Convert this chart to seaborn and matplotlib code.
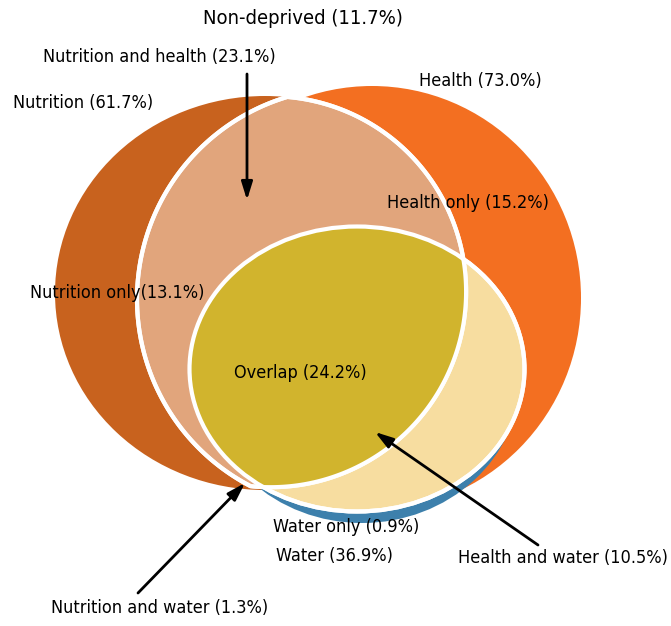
import matplotlib
matplotlib.use("Agg")
import matplotlib.pyplot as plt
from matplotlib.patches import Ellipse, PathPatch
from matplotlib.path import Path
import numpy as np
import seaborn as sns

sns.set_theme(style="white")
plt.rcParams['font.family'] = ['DejaVu Sans']
plt.rcParams['font.stretch'] = 'condensed'

# ---- data ----
set_names = ["Nutrition", "Health", "Water"]
set_pcts = [61.7, 73.0, 36.9]
region_names = ["Non-deprived", "Nutrition and health", "Health only", "Nutrition only",
                "Overlap", "Water only", "Health and water", "Nutrition and water"]
region_pcts = [11.7, 23.1, 15.2, 13.1, 24.2, 0.9, 10.5, 1.3]

W, H = 671, 626
fig = plt.figure(figsize=(W / 100, H / 100), dpi=100)
ax = fig.add_axes([0, 0, 1, 1])
ax.set_xlim(0, W)
ax.set_ylim(H, 0)
ax.set_aspect("equal")
ax.axis("off")

C_NUT = "#C8621E"
C_HEA = "#F36F21"
C_WAT = "#3D80AC"
C_NH = "#E1A57C"
C_HW = "#F7DDA0"
C_ALL = "#D1B42D"


def arc_inside(c, r, c_other, r_other, n=1440):
    t = np.linspace(0, 2 * np.pi, n, endpoint=False)
    pts = np.column_stack([c[0] + r * np.cos(t), c[1] + r * np.sin(t)])
    inside = np.hypot(pts[:, 0] - c_other[0], pts[:, 1] - c_other[1]) < r_other
    k = int(np.argmin(inside))
    return np.roll(pts, -k, axis=0)[np.roll(inside, -k)]


# lens of nutrition and health (layout circles)
CA, RA = (270.6, 291.7), 195.5
CB, RB = (348.0, 299.0), 211.0
lens = np.vstack([arc_inside(CA, RA, CB, RB), arc_inside(CB, RB, CA, RA)])
lens_path = Path(np.vstack([lens, lens[:1]]), closed=True)

nut = Ellipse((265, 293), 420, 394, facecolor=C_NUT, edgecolor="none", zorder=1)
hea = Ellipse((372, 298), 418, 424, facecolor=C_HEA, edgecolor="none", zorder=2)
water = Ellipse((362, 378), 316, 290, facecolor=C_WAT, edgecolor="none", zorder=3)
for p in (nut, hea, water):
    ax.add_patch(p)

YC, YW, YH = (357, 369), 335, 285
ax.add_patch(Ellipse(YC, YW, YH, facecolor=C_HW, edgecolor="white", lw=3, zorder=4))
tan = PathPatch(lens_path, facecolor=C_NH, edgecolor="white", lw=3, zorder=5)
ax.add_patch(tan)
olive = Ellipse(YC, YW, YH, facecolor=C_ALL, edgecolor="none", zorder=6)
ax.add_patch(olive)
olive.set_clip_path(tan)
ax.add_patch(Ellipse(YC, YW, YH, facecolor="none", edgecolor="white", lw=3, zorder=7))
ax.add_patch(PathPatch(lens_path, facecolor="none", edgecolor="white", lw=3, zorder=7))

fs = 13
def lab(x, y, s, size=fs, **kw):
    ax.text(x, y, s, ha="center", va="center", fontsize=size, color="black",
            fontstretch="condensed", zorder=10, **kw)

lab(303, 19, f"{region_names[0]} ({region_pcts[0]}%)", size=14.5)
lab(159, 57, f"{region_names[1]} ({region_pcts[1]}%)")
lab(480, 81, f"{set_names[1]} ({set_pcts[1]}%)")
lab(83, 103, f"{set_names[0]} ({set_pcts[0]}%)")
lab(468, 203, f"{region_names[2]} ({region_pcts[2]}%)")
lab(117, 293, f"{region_names[3]}({region_pcts[3]}%)")
lab(300, 373, f"{region_names[4]} ({region_pcts[4]}%)")
lab(346, 527, f"{region_names[5]} ({region_pcts[5]}%)")
lab(334, 556, f"{set_names[2]} ({set_pcts[2]}%)")
lab(563, 558, f"{region_names[6]} ({region_pcts[6]}%)")
lab(160, 608, f"{region_names[7]} ({region_pcts[7]}%)")

arw = dict(arrowstyle="-|>,head_length=0.9,head_width=0.28", color="black", lw=2, shrinkA=0, shrinkB=0)
ax.annotate("", xy=(247, 200), xytext=(247, 74), arrowprops=arw, zorder=11)
ax.annotate("", xy=(245, 483), xytext=(138, 593), arrowprops=arw, zorder=11)
ax.annotate("", xy=(375, 432), xytext=(538, 545), arrowprops=arw, zorder=11)

fig.savefig("out.png", dpi=100)
